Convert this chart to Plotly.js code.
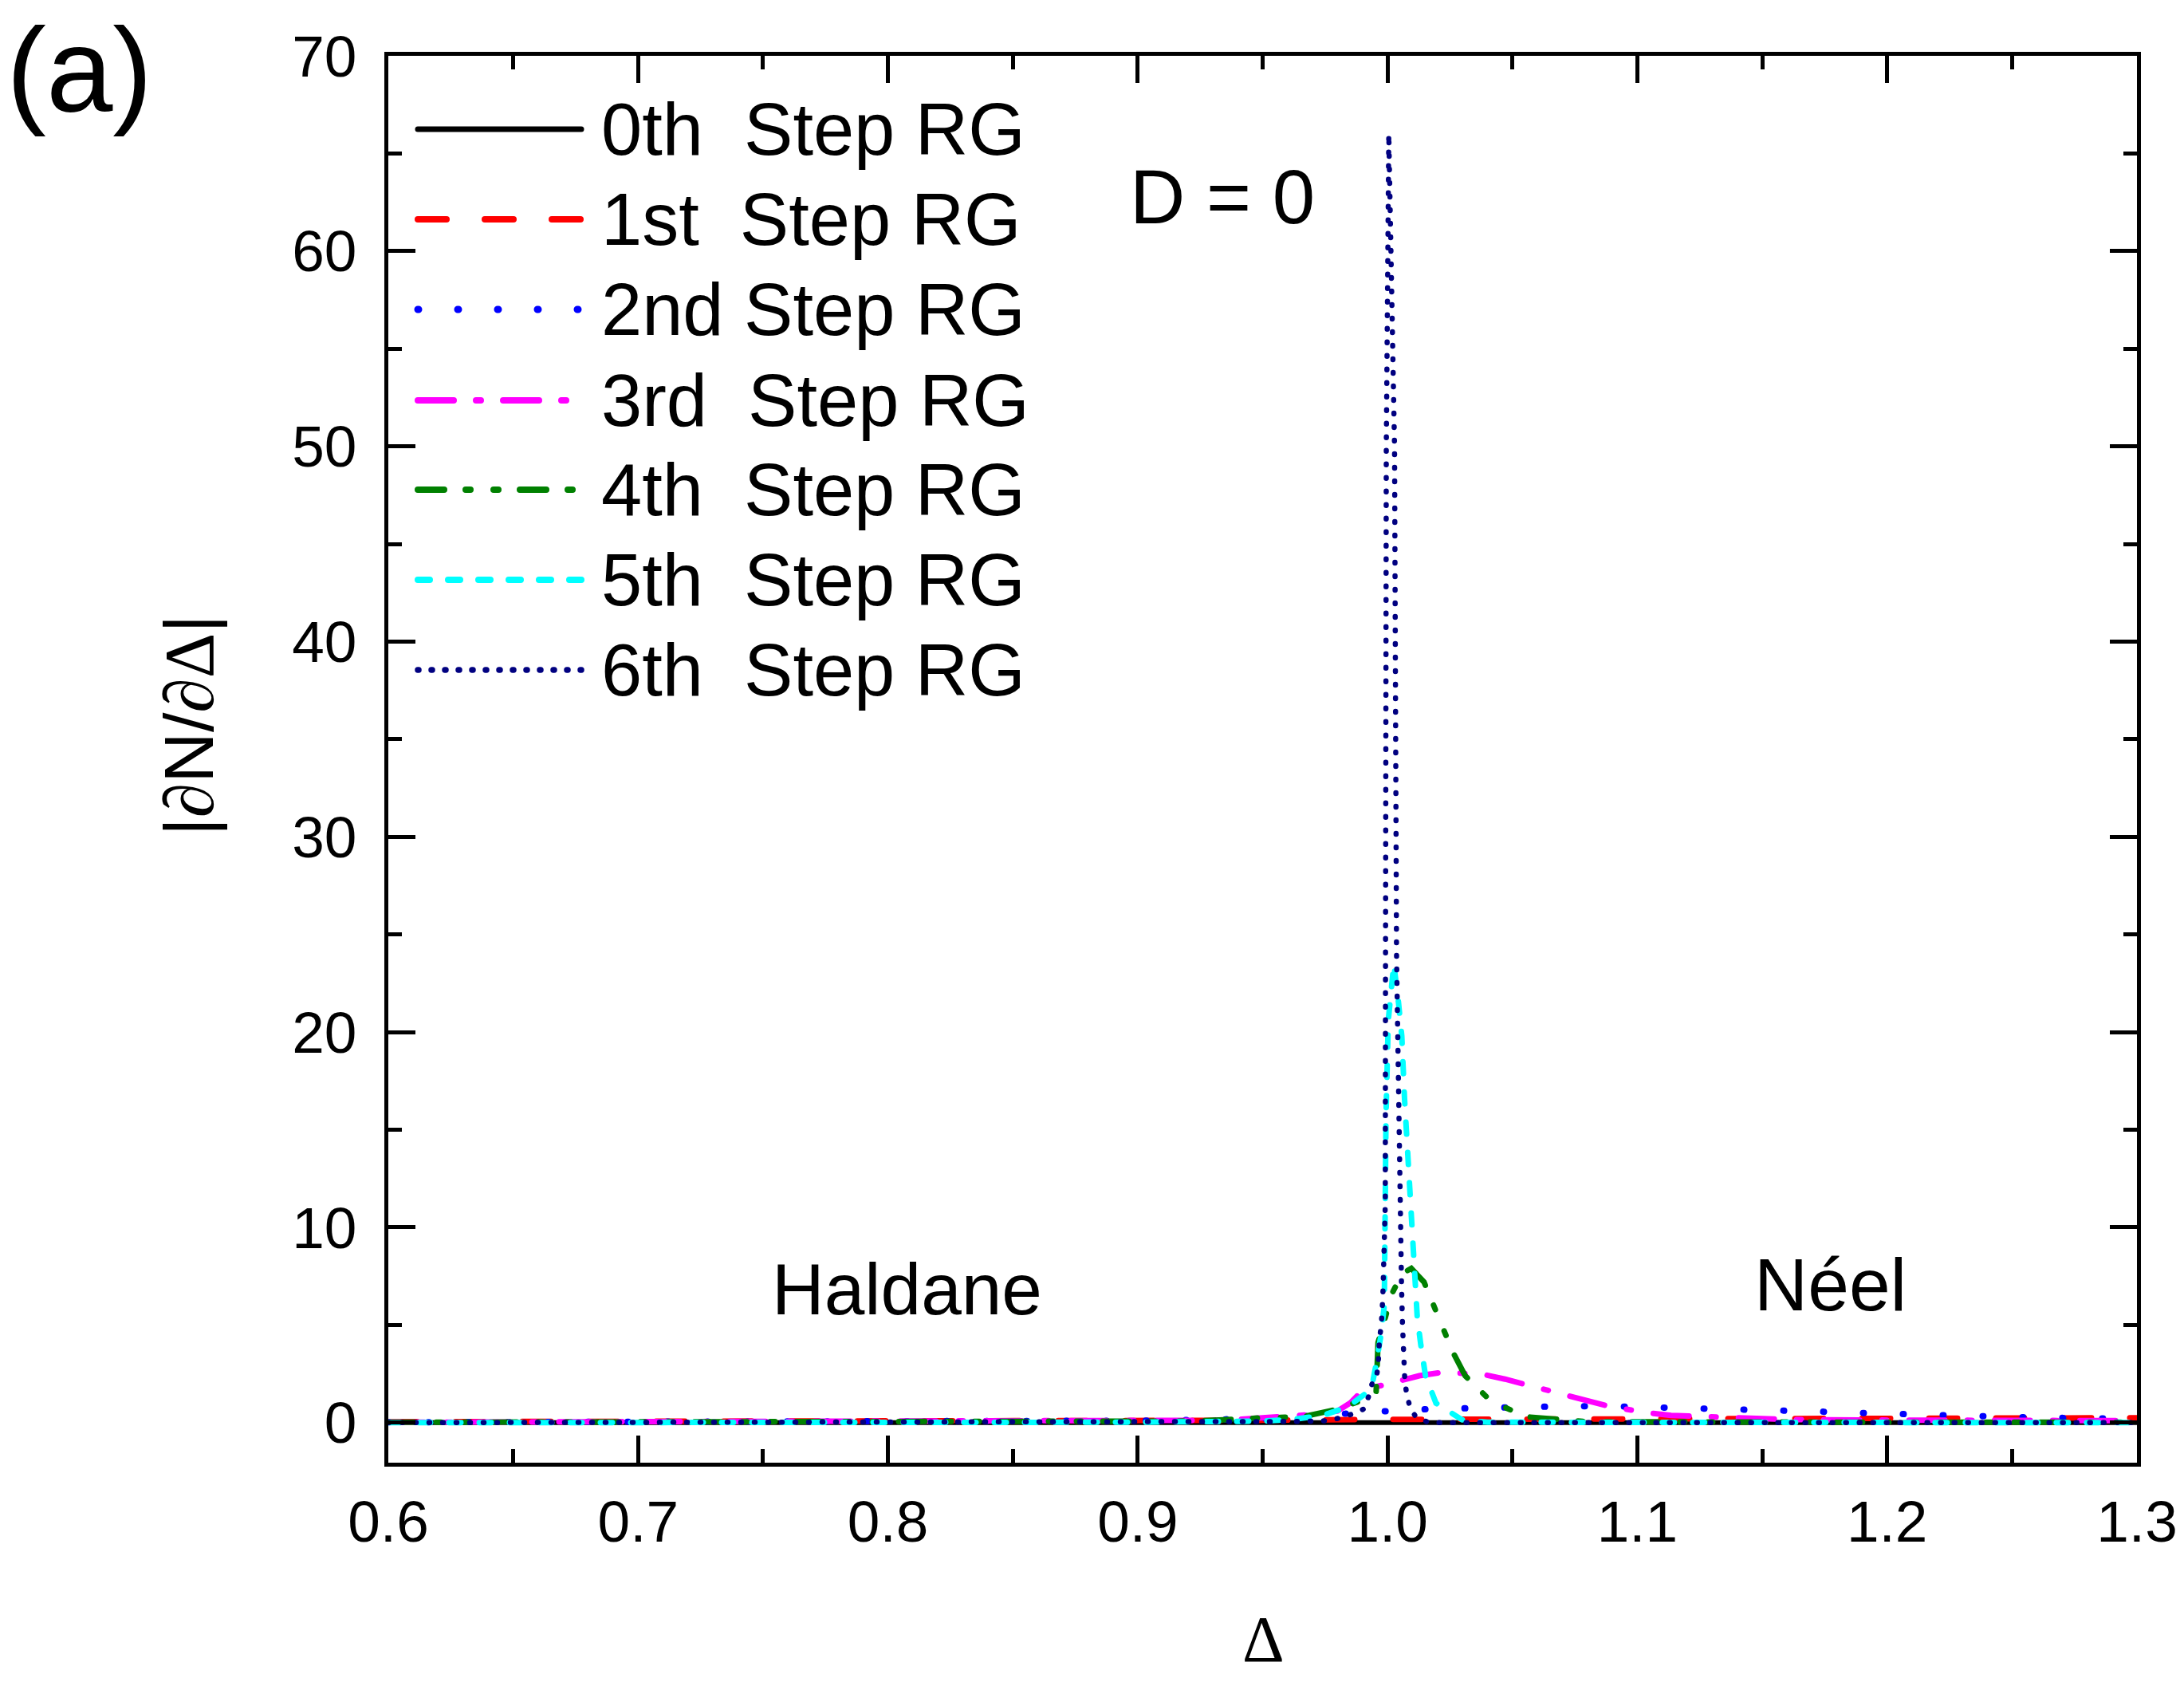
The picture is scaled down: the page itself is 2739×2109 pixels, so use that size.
<!DOCTYPE html>
<html><head><meta charset="utf-8">
<script src="https://cdn.plot.ly/plotly-3.0.1.min.js"></script>
<style>
html,body{margin:0;padding:0;background:#fff;}
#chart{width:2739px;height:2109px;}
.scatterlayer .js-line, .shapelayer path{stroke-linecap:round;}
</style></head><body><div id="chart"></div>
<script>
// ---- data ----
const seriesNames = ['0th\u00a0 Step RG','1st\u00a0 Step RG','2nd Step RG','3rd\u00a0 Step RG','4th\u00a0 Step RG','5th\u00a0 Step RG','6th\u00a0 Step RG'];

const step0X = [0.60, 0.70, 0.80, 0.90, 0.95, 0.98, 1.00, 1.02, 1.05, 1.10, 1.20, 1.30];
const step0Y = [0.00, 0.00, 0.00, 0.00, 0.01, 0.02, 0.02, 0.02, 0.01, 0.00, 0.00, 0.00];

const step1X = [0.60, 0.70, 0.80, 0.90, 0.95, 0.99, 1.05, 1.10, 1.16, 1.20, 1.25, 1.30];
const step1Y = [0.05, 0.05, 0.06, 0.08, 0.12, 0.16, 0.17, 0.19, 0.21, 0.23, 0.24, 0.25];

const step2X = [0.60, 0.70, 0.80, 0.90, 0.95, 0.977, 0.9932, 1.009, 1.025, 1.041, 1.057, 1.073, 1.089, 1.105, 1.121, 1.137, 1.153, 1.169, 1.20, 1.218, 1.234, 1.25, 1.266, 1.282, 1.30];
const step2Y = [0.02, 0.03, 0.05, 0.10, 0.20, 0.40, 0.60, 0.66, 0.72, 0.78, 0.80, 0.84, 0.84, 0.80, 0.75, 0.69, 0.63, 0.58, 0.46, 0.38, 0.33, 0.29, 0.25, 0.21, 0.19];

const step3X = [0.60, 0.70, 0.80, 0.89, 0.928, 0.939, 0.953, 0.968, 0.98, 0.985, 0.990, 1.0054, 1.0127, 1.0225, 1.039, 1.047, 1.056, 1.0714, 1.080, 1.0885, 1.1043, 1.1135, 1.123, 1.142, 1.148, 1.16, 1.20, 1.25, 1.30];
const step3Y = [0.02, 0.03, 0.05, 0.08, 0.12, 0.16, 0.30, 0.40, 0.60, 1.00, 1.66, 2.20, 2.40, 2.59, 2.45, 2.23, 1.93, 1.39, 1.09, 0.84, 0.50, 0.37, 0.33, 0.23, 0.19, 0.16, 0.13, 0.11, 0.10];

const step4X = [0.60, 0.70, 0.80, 0.90, 0.923, 0.949, 0.966, 0.9786, 0.989, 0.9954, 0.9956, 0.9962, 0.9987, 1.0017, 1.006, 1.0095, 1.0146, 1.0207, 1.0262, 1.0311, 1.0414, 1.0555, 1.0665, 1.08, 1.15, 1.30];
const step4Y = [0.02, 0.02, 0.03, 0.05, 0.08, 0.24, 0.30, 0.65, 1.10, 1.46, 2.75, 4.10, 5.20, 6.60, 7.65, 7.90, 7.20, 5.40, 3.60, 2.40, 1.10, 0.30, 0.16, 0.05, 0.03, 0.02];

const step5X = [0.60, 0.70, 0.80, 0.90, 0.95, 0.9616, 0.974, 0.984, 0.9913, 0.9938, 0.9956, 0.9975, 0.9987, 0.9989, 0.9990, 0.9994, 1.0003, 1.0016, 1.0025, 1.0044, 1.0057, 1.0068, 1.0081, 1.0091, 1.0098, 1.0107, 1.0119, 1.0133, 1.0152, 1.0194, 1.0298, 1.04, 1.10, 1.30];
const step5Y = [0.00, 0.00, 0.00, 0.02, 0.08, 0.16, 0.37, 0.80, 1.50, 1.90, 3.10, 4.60, 6.00, 9.00, 12.0, 15.8, 20.6, 22.3, 23.5, 21.5, 19.8, 16.6, 13.4, 11.6, 10.0, 7.50, 5.40, 4.00, 2.40, 1.00, 0.15, 0.02, 0.00, 0.00];

const step6X = [0.60, 0.70, 0.80, 0.85, 0.90, 0.93, 0.95, 0.965, 0.9755, 0.9807, 0.9859, 0.9905, 0.9926, 0.9938, 0.9954, 0.9962, 0.9968, 0.9975, 0.9981, 0.9985, 0.9991, 0.9992, 0.9995, 1.0005, 1.0015, 1.0028, 1.0036, 1.0048, 1.0056, 1.0060, 1.0064, 1.0069, 1.0076, 1.0090, 1.0113, 1.0166, 1.03, 1.10, 1.20, 1.30];
const step6Y = [0.00, 0.00, 0.00, 0.00, 0.01, 0.02, 0.03, 0.06, 0.10, 0.23, 0.44, 0.70, 1.40, 2.00, 2.20, 2.90, 4.30, 5.00, 6.40, 8.40, 11.2, 24.0, 50.0, 66.0, 60.0, 50.0, 24.0, 11.2, 7.00, 5.00, 3.60, 2.20, 1.50, 0.78, 0.30, 0.00, 0.00, 0.00, 0.00, 0.00];

const xTickVals = [0.6, 0.7, 0.8, 0.9, 1.0, 1.1, 1.2, 1.3];
const xTickText = ['0.6', '0.7', '0.8', '0.9', '1.0', '1.1', '1.2', '1.3'];
const yTickVals = [0, 10, 20, 30, 40, 50, 60, 70];
const yTickText = ['0', '10', '20', '30', '40', '50', '60', '70'];

const xTitle = 'Δ';
const yTitle = '|<span style="font-family:Liberation Serif">∂</span>N/<span style="font-family:Liberation Serif">∂Δ</span>|';

// ---- styles ----
const colors = ['#000000', '#ff0000', '#0000ff', '#ff00ff', '#008000', '#00ffff', '#000080'];
const widths = [6, 7, 8, 7, 7, 7, 6.5];
const dashes = ['solid', '36px,48px', '1px,49px', '45px,28px,6px,28px', '33px,27px,6px,29px,6px,27px', '15px,23px', '1px,16px'];

const xs = [step0X, step1X, step2X, step3X, step4X, step5X, step6X];
const ys = [step0Y, step1Y, step2Y, step3Y, step4Y, step5Y, step6Y];

const traces = xs.map((x, i) => ({
  x: x, y: ys[i], type: 'scatter', mode: 'lines', name: seriesNames[i],
  line: {color: colors[i], width: widths[i], dash: dashes[i]},
  showlegend: false, hoverinfo: 'skip'
}));

// plot box in pixels
const W = 2739, H = 2109, L = 487, R = 2680, T = 70, B = 1834;
const px = v => (v - L) / (R - L);
const py = v => (B - v) / (B - T);

const FONT = 'Liberation Sans, Arial, sans-serif';
const SERIF = 'Liberation Serif, Times New Roman, serif';

// custom legend (long sample lines like the original)
const rowY = [162, 275, 388, 502, 614, 727, 840];
const shapes = [];
const annotations = [];
rowY.forEach((ry, i) => {
  shapes.push({type: 'line', xref: 'paper', yref: 'paper', x0: px(524), x1: px(729), y0: py(ry), y1: py(ry),
    line: {color: colors[i], width: widths[i] + 1, dash: dashes[i]}});
  annotations.push({xref: 'paper', yref: 'paper', x: px(752), y: py(ry), xanchor: 'left', yanchor: 'middle',
    text: seriesNames[i], showarrow: false, font: {family: FONT, size: 92, color: '#000'}});
});
annotations.push({xref: 'paper', yref: 'paper', x: px(1533), y: py(247), xanchor: 'center', yanchor: 'middle',
  text: 'D = 0', showarrow: false, font: {family: FONT, size: 96, color: '#000'}});
annotations.push({xref: 'paper', yref: 'paper', x: px(1137), y: py(1616), xanchor: 'center', yanchor: 'middle',
  text: 'Haldane', showarrow: false, font: {family: FONT, size: 91, color: '#000'}});
annotations.push({xref: 'paper', yref: 'paper', x: px(2295), y: py(1611), xanchor: 'center', yanchor: 'middle',
  text: 'Néel', showarrow: false, font: {family: FONT, size: 93, color: '#000'}});
annotations.push({xref: 'paper', yref: 'paper', x: px(99), y: py(88), xanchor: 'center', yanchor: 'middle',
  text: '(a)', showarrow: false, font: {family: FONT, size: 150, color: '#000'}});
// axis titles
annotations.push({xref: 'paper', yref: 'paper', x: px(1584), y: py(2055), xanchor: 'center', yanchor: 'middle',
  text: xTitle, showarrow: false, font: {family: SERIF, size: 82, color: '#000'}});
annotations.push({xref: 'paper', yref: 'paper', x: px(236), y: py(910), xanchor: 'center', yanchor: 'middle',
  text: yTitle, textangle: -90, showarrow: false, font: {family: FONT, size: 88, color: '#000'}});

const axisCommon = {
  showline: true, linecolor: '#000', linewidth: 5, mirror: 'ticks',
  ticks: 'inside', ticklen: 34, tickwidth: 5, tickcolor: '#000',
  showgrid: false, zeroline: false, automargin: false,
  tickfont: {family: FONT, size: 73, color: '#000'}
};

const layout = {
  width: W, height: H,
  margin: {l: L, r: W - R, t: T, b: H - B, pad: 0},
  paper_bgcolor: '#fff', plot_bgcolor: '#fff',
  showlegend: false,
  xaxis: Object.assign({}, axisCommon, {
    range: [0.6, 1.3], tickmode: 'array', tickvals: xTickVals, ticktext: xTickText,
    ticklabelstandoff: 6,
    minor: {dtick: 0.05, ticks: 'inside', ticklen: 17, tickwidth: 5, tickcolor: '#000', showgrid: false}
  }),
  yaxis: Object.assign({}, axisCommon, {
    range: [-2.05, 70], tickmode: 'array', tickvals: yTickVals, ticktext: yTickText,
    ticklabelstandoff: 20,
    minor: {dtick: 5, ticks: 'inside', ticklen: 17, tickwidth: 5, tickcolor: '#000', showgrid: false}
  }),
  shapes: shapes,
  annotations: annotations
};

Plotly.newPlot('chart', traces, layout, {staticPlot: true, displayModeBar: false});
</script></body></html>
